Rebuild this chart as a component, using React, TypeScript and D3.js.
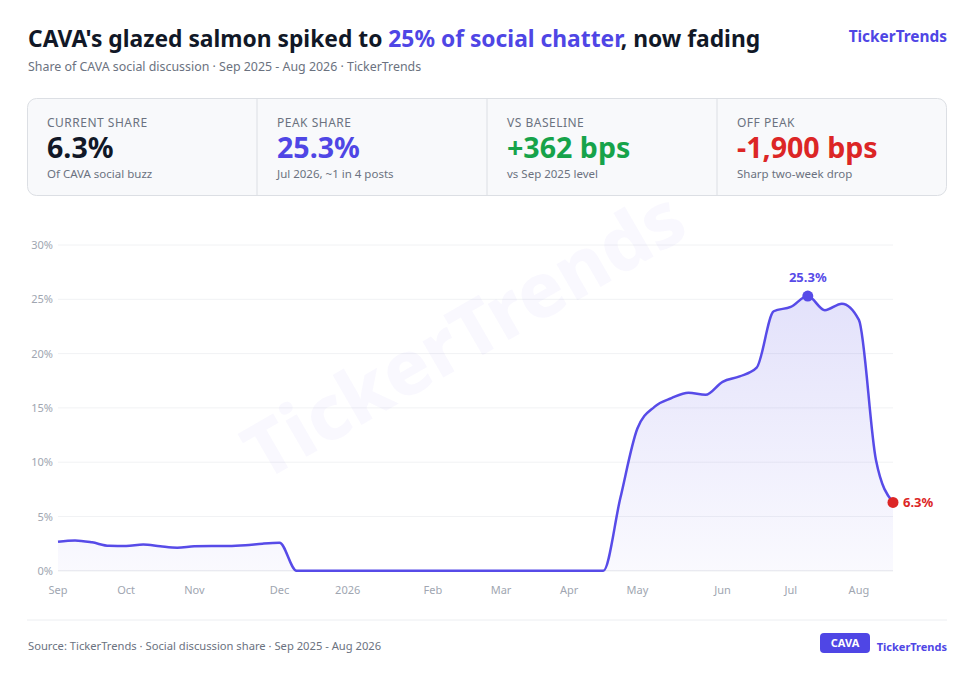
import React from "react";
import * as d3 from "d3";

const weeks = [
  "2025-09-06","2025-09-13","2025-09-20","2025-09-27",
  "2025-10-04","2025-10-11","2025-10-18","2025-10-25",
  "2025-11-01","2025-11-08","2025-11-15","2025-11-22","2025-11-29",
  "2025-12-06","2025-12-13","2025-12-20","2025-12-27",
  "2026-01-03","2026-01-10","2026-01-17","2026-01-24","2026-01-31",
  "2026-02-07","2026-02-14","2026-02-21","2026-02-28",
  "2026-03-07","2026-03-14","2026-03-21","2026-03-28",
  "2026-04-04","2026-04-11","2026-04-18","2026-04-25",
  "2026-05-02","2026-05-09","2026-05-16","2026-05-23","2026-05-30",
  "2026-06-06","2026-06-13","2026-06-20","2026-06-27",
  "2026-07-04","2026-07-11","2026-07-18","2026-07-25",
  "2026-08-01","2026-08-08","2026-08-15",
];

const shareValues = [
  2.68, 2.8, 2.62, 2.3,
  2.28, 2.42, 2.25, 2.12,
  2.25, 2.28, 2.28, 2.35, 2.5,
  2.58, 0, 0, 0,
  0, 0, 0, 0, 0,
  0, 0, 0, 0,
  0, 0, 0, 0,
  0, 0, 0, 6.7,
  13.1, 15.1, 15.9, 16.4, 16.2,
  17.4, 17.9, 18.7, 23.9,
  24.3, 25.3, 24.0, 24.6,
  23.1, 10.2, 6.3,
];

const tickWeeks = [
  "2025-09-06","2025-10-04","2025-11-01","2025-12-06","2026-01-03","2026-02-07",
  "2026-03-07","2026-04-04","2026-05-02","2026-06-06","2026-07-04","2026-08-01",
];
const tickLabels = ["Sep","Oct","Nov","Dec","2026","Feb","Mar","Apr","May","Jun","Jul","Aug"];
const yTicks = [0, 5, 10, 15, 20, 25, 30];

const kpiLabels = ["CURRENT SHARE", "PEAK SHARE", "VS BASELINE", "OFF PEAK"];
const kpiValues = ["6.3%", "25.3%", "+362 bps", "-1,900 bps"];
const kpiNotes = ["Of CAVA social buzz", "Jul 2026, ~1 in 4 posts", "vs Sep 2025 level", "Sharp two-week drop"];
const kpiColors = ["#111827", "#4f46e5", "#16a34a", "#dc2626"];

const W = 976;
const H = 673;
const FONT = "'Noto Sans', 'Open Sans', sans-serif";
const PURPLE = "#4f46e5";
const LINE = "#574be8";

export default function App() {
  const data = weeks.map((w, i) => ({ w, v: shareValues[i] }));
  const x = d3.scalePoint<string>().domain(weeks).range([58, 893]);
  const y = d3.scaleLinear().domain([0, 30]).range([570.8, 245]);

  const line = d3
    .line<{ w: string; v: number }>()
    .x((d) => x(d.w)!)
    .y((d) => y(d.v))
    .curve(d3.curveMonotoneX);
  const area = d3
    .area<{ w: string; v: number }>()
    .x((d) => x(d.w)!)
    .y0(y(0))
    .y1((d) => y(d.v))
    .curve(d3.curveMonotoneX);

  const peakIdx = d3.maxIndex(shareValues);
  const peak = data[peakIdx];
  const last = data[data.length - 1];

  const boxX = 27, boxY = 98, boxW = 920, boxH = 98;
  const cellW = boxW / 4;

  return (
    <div style={{ position: "absolute", left: 0, top: 0, width: W, height: H, background: "#fff" }}>
      <svg width={W} height={H} style={{ display: "block", fontFamily: FONT }}>
        <defs>
          <linearGradient id="areaGrad" x1="0" y1="0" x2="0" y2="1">
            <stop offset="0%" stopColor={PURPLE} stopOpacity={0.16} />
            <stop offset="100%" stopColor={PURPLE} stopOpacity={0.03} />
          </linearGradient>
        </defs>

        {/* Title */}
        <text x={28} y={47} fontSize={22.8} fontWeight={700} fill="#111827">
          <tspan>CAVA's glazed salmon spiked to </tspan>
          <tspan fill={PURPLE}>25% of social chatter</tspan>
          <tspan>, now fading</tspan>
        </text>
        <text x={947} y={42} fontSize={15.4} fontWeight={700} fill={PURPLE} textAnchor="end">
          TickerTrends
        </text>
        <text x={28} y={71} fontSize={12.4} fill="#6b7280">
          Share of CAVA social discussion · Sep 2025 - Aug 2026 · TickerTrends
        </text>

        {/* KPI box */}
        <rect x={boxX + 0.5} y={boxY + 0.5} width={boxW - 1} height={boxH - 1} rx={9} fill="#f8f9fb" stroke="#dcdfe4" />
        {kpiLabels.map((lab, i) => {
          const cx = boxX + i * cellW;
          return (
            <g key={lab}>
              {i > 0 && <line x1={cx} x2={cx} y1={boxY + 1} y2={boxY + boxH - 1} stroke="#dcdfe4" />}
              <text x={cx + 20} y={127} fontSize={12} fill="#6b7280" letterSpacing={0.5}>
                {lab}
              </text>
              <text x={cx + 20} y={158} fontSize={28.6} fontWeight={700} fill={kpiColors[i]}>
                {kpiValues[i]}
              </text>
              <text x={cx + 20} y={178} fontSize={11.5} fill="#6b7280">
                {kpiNotes[i]}
              </text>
            </g>
          );
        })}

        {/* Grid */}
        {yTicks.map((t) => (
          <g key={t}>
            <line x1={58} x2={893} y1={y(t)} y2={y(t)} stroke={t === 0 ? "#e5e7eb" : "#f1f2f4"} strokeWidth={1} />
            <text x={53} y={y(t) + 4} fontSize={11} fill="#a0a6b1" textAnchor="end">
              {t}%
            </text>
          </g>
        ))}
        {tickWeeks.map((w, i) => (
          <text key={w} x={x(w)!} y={594} fontSize={11} fill="#a0a6b1" textAnchor="middle">
            {tickLabels[i]}
          </text>
        ))}

        {/* Watermark */}
        <text
          x={467}
          y={340}
          fontSize={76}
          fontWeight={800}
          fill={PURPLE}
          fillOpacity={0.035}
          textAnchor="middle"
          dominantBaseline="middle"
          transform="rotate(-30 467 340)"
        >
          TickerTrends
        </text>

        {/* Area + line */}
        <path d={area(data)!} fill="url(#areaGrad)" />
        <path d={line(data)!} fill="none" stroke={LINE} strokeWidth={2.5} strokeLinejoin="round" />

        {/* Peak */}
        <circle cx={x(peak.w)!} cy={y(peak.v)} r={5.5} fill={LINE} />
        <text x={x(peak.w)!} y={y(peak.v) - 14} fontSize={13} fontWeight={700} fill={LINE} textAnchor="middle">
          {peak.v.toFixed(1)}%
        </text>

        {/* Last */}
        <circle cx={x(last.w)!} cy={y(last.v)} r={5.5} fill="#dc2626" />
        <text x={x(last.w)! + 10} y={y(last.v) + 4.5} fontSize={13} fontWeight={700} fill="#dc2626">
          {last.v.toFixed(1)}%
        </text>

        {/* Footer */}
        <line x1={27} x2={947} y1={620} y2={620} stroke="#eceef1" />
        <text x={28} y={650} fontSize={11.2} fill="#6b7280">
          Source: TickerTrends · Social discussion share · Sep 2025 - Aug 2026
        </text>
        <rect x={820} y={633} width={50} height={20} rx={4} fill={PURPLE} />
        <text x={845} y={647} fontSize={11} fontWeight={700} fill="#fff" textAnchor="middle">
          CAVA
        </text>
        <text x={947} y={651} fontSize={11} fontWeight={700} fill={PURPLE} textAnchor="end">
          TickerTrends
        </text>
      </svg>
    </div>
  );
}
